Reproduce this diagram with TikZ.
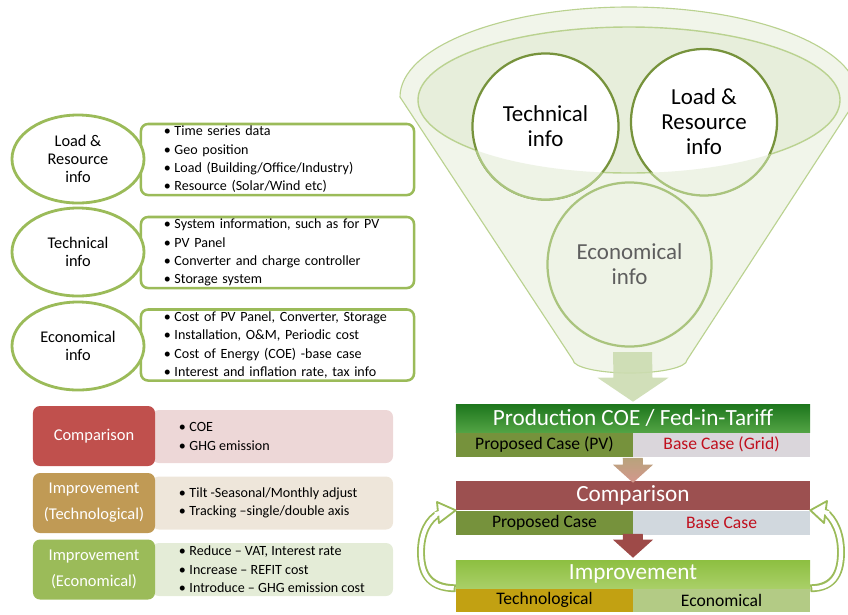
\documentclass[tikz,border=0pt]{standalone}
\usepackage{fontspec}
\setmainfont{Carlito}
\usepackage{tikz}
\usetikzlibrary{calc,positioning,shapes.geometric}
\definecolor{leaf}{HTML}{9BBB59}
\definecolor{leafdk}{HTML}{77933C}
\definecolor{leaflt}{HTML}{AAC47E}
\definecolor{funnel}{HTML}{F1F5EA}
\definecolor{funnelin}{HTML}{E7EEDB}
\definecolor{funnelln}{HTML}{BAD290}
\definecolor{funfront}{HTML}{EEF3E6}
\definecolor{funarrow}{HTML}{CCDCB1}
\definecolor{econgray}{HTML}{5E5E5E}
\definecolor{cmpred}{HTML}{C0504D}
\definecolor{cmppale}{HTML}{EDD7D7}
\definecolor{techtan}{HTML}{C09A55}
\definecolor{techpale}{HTML}{EEE6DA}
\definecolor{ecogreen}{HTML}{9BBB59}
\definecolor{ecopale}{HTML}{E4ECD7}
\definecolor{prodtop}{HTML}{1D761D}
\definecolor{prodbot}{HTML}{52A344}
\definecolor{pvolive}{HTML}{76923C}
\definecolor{gridgray}{HTML}{DAD6DB}
\definecolor{basegray}{HTML}{D1D8DE}
\definecolor{gridred}{HTML}{C0101E}
\definecolor{cmpbar}{HTML}{9C5050}
\definecolor{imprtop}{HTML}{8DBF41}
\definecolor{imprbot}{HTML}{A9CF67}
\definecolor{techgold}{HTML}{C2A112}
\definecolor{ecobar}{HTML}{B3CB85}
\definecolor{arrtop}{HTML}{B8A37C}
\definecolor{arrbot}{HTML}{D4978D}
\definecolor{arrred}{HTML}{9E4A48}
\newcommand\bul{\textbullet\hspace{2.5pt}}
% block arrow: style, start, tip, shaft half, head half, head length
\newcommand\blockarrow[6]{%
  \path[#1] ($(#2)+(-#4,0)$) -- ($(#2)+(#4,0)$) -- ($(#3)+(#4,-#6)$)
    -- ($(#3)+(#5,-#6)$) -- (#3) -- ($(#3)+(-#5,-#6)$) -- ($(#3)+(-#4,-#6)$) -- cycle;}
\tikzset{
  infoell/.style={ellipse, draw=leaf, line width=2pt, fill=white, minimum width=3.3cm,
    minimum height=2.2cm, inner sep=1pt, align=center, font=\fontsize{11.6}{13}\selectfont},
  infolist/.style={draw=leaf, line width=1.8pt, rounded corners=5pt, fill=white,
    minimum height=1.775cm, inner xsep=0.575cm, inner ysep=0pt, text width=5.675cm,
    align=left, font=\fontsize{10}{13}\selectfont},
  tagbox/.style={rounded corners=5pt, minimum width=3.05cm, minimum height=1.5cm,
    inner sep=0pt, align=center, text=white, font=\fontsize{11.7}{18.4}\selectfont},
  palebox/.style={rounded corners=5pt, minimum width=6.025cm, minimum height=1.325cm},
  palelist/.style={anchor=west, inner sep=0pt, align=left, font=\fontsize{10}{13.2}\selectfont},
  ringnode/.style={circle, draw=leafdk, line width=1.6pt, fill=white, minimum size=3.65cm,
    inner sep=0pt, align=center, font=\fontsize{16.3}{17.7}\selectfont},
  barnode/.style={minimum width=8.85cm, minimum height=0.7cm, inner sep=0pt, text=white,
    font=\fontsize{16.5}{18}\selectfont},
  halfnode/.style={minimum width=4.425cm, minimum height=0.6cm, inner sep=0pt,
    font=\fontsize{12.5}{14}\selectfont},
  cycarrow/.style={draw=leaf, line width=5.6pt},
  cycinner/.style={draw=white, line width=3pt},
  cychead/.style={fill=white, draw=leaf, line width=1.3pt, line join=round},
}
\begin{document}
\begin{tikzpicture}[x=0.025cm,y=-0.025cm]
  \useasboundingbox (0,0) rectangle (848,614);
  \clip (0,0) rectangle (848,614);

  % inputs, left
  \node[infolist] (lrlist) at (277.5,159.5) {\bul Time series data\\ \bul Geo position\\
    \bul Load (Building/Office/Industry)\\ \bul Resource (Solar/Wind etc)};
  \node[infolist] (techlist) at (277.5,252.5) {\bul System information, such as for PV\\
    \bul PV Panel\\ \bul Converter and charge controller\\ \bul Storage system};
  \node[infolist] (ecolist) at (277.5,345) {\bul Cost of PV Panel, Converter, Storage\\
    \bul Installation, O\&M, Periodic cost\\ \bul Cost of Energy (COE) -base case\\
    \bul Interest and inflation rate, tax info};
  \node[infoell] (lrell) at (78,159) {Load \&\\Resource\\info};
  \node[infoell] (techell) at (78,252) {Technical\\info};
  \node[infoell] (ecoell) at (78,346) {Economical\\info};

  % steps, left
  \node[palebox, fill=cmppale] (cmpbg) at (272.5,436.5) {};
  \node[palebox, fill=techpale] (techbg) at (272.5,503) {};
  \node[palebox, fill=ecopale] (ecobg) at (272.5,569.5) {};
  \node[palelist] (cmplist) at ($(cmpbg.west)+(27,0)$) {\bul COE\\ \bul GHG emission};
  \node[palelist] (techsteps) at ($(techbg.west)+(27,0)$) {\bul Tilt -Seasonal/Monthly adjust\\
    \bul Tracking --single/double axis};
  \node[palelist] (ecosteps) at ($(ecobg.west)+(27,0)$) {\bul Reduce -- VAT, Interest rate\\
    \bul Increase -- REFIT cost\\ \bul Introduce -- GHG emission cost};
  \node[tagbox, fill=cmpred] (cmptag) at (94,436) {Comparison};
  \node[tagbox, fill=techtan] (techtag) at (94,503) {Improvement\\(Technological)};
  \node[tagbox, fill=ecogreen] (ecotag) at (94,569.5) {Improvement\\(Economical)};

  % funnel
  \filldraw[fill=funnel, draw=funnelln, line width=0.8pt] (400,97)
    arc[start angle=180, end angle=360, x radius=229, y radius=90] -- (687,360)
    arc[start angle=0, end angle=180, x radius=57, y radius=13] -- cycle;
  \filldraw[fill=funnelin, draw=funnelln, line width=1pt] (629,100) ellipse[x radius=211, y radius=73];
  \node[ringnode] (techc) at (545.5,126.5) {Technical\\info};
  \node[ringnode] (loadc) at (704,122) {Load \&\\Resource\\info};
  \begin{scope}
    \clip (390,100) -- (418,100) arc[start angle=180, end angle=0, x radius=211, y radius=73]
      -- (870,100) -- (870,420) -- (390,420) -- cycle;
    \filldraw[fill=funfront, draw=leaflt, line width=1.6pt] (techc.center) circle[radius=73];
    \filldraw[fill=funfront, draw=leaflt, line width=1.6pt] (loadc.center) circle[radius=73.5];
  \end{scope}
  \node[ringnode, minimum size=4.1cm, fill=funfront, draw=leaflt, text=econgray] (econc)
    at (629.5,264.5) {Economical\\info};

  % results, right
  \node[barnode, top color=prodtop, bottom color=prodbot] (prod) at (633,418)
    {Production COE / Fed-in-Tariff};
  \node[halfnode, fill=pvolive, anchor=north west] (prodpv) at (prod.south west) {Proposed Case (PV)};
  \node[halfnode, fill=gridgray, text=gridred, anchor=north east] (prodgrid) at (prod.south east)
    {Base Case (Grid)};
  \node[barnode, fill=cmpbar, minimum height=0.725cm] (cmp) at (633,495.5) {Comparison};
  \node[halfnode, fill=pvolive, anchor=north west] (cmppv) at (cmp.south west) {Proposed Case};
  \node[halfnode, fill=basegray, text=gridred, anchor=north east] (cmpbase) at (cmp.south east)
    {Base Case};
  \node[barnode, top color=imprtop, bottom color=imprbot] (impr) at (633,574) {Improvement};
  \node[halfnode, fill=techgold, minimum height=0.575cm, anchor=north west] (imprtech)
    at (impr.south west) {Technological};
  \node[halfnode, fill=ecobar, minimum height=0.575cm, anchor=north east] (impreco)
    at (impr.south east) {Economical};

  % block arrows
  \coordinate (fbot) at (632.5,352);
  \blockarrow{fill=funarrow, fill opacity=0.9}{fbot}{$(prod.north)+(0,-2)$}{19.5}{35.5}{24}
  \blockarrow{top color=arrtop, bottom color=arrbot}{$(prodgrid.south west)+(0,1)$}{$(cmp.north)+(0,2)$}{10}{20}{18}
  \blockarrow{fill=arrred}{$(cmpbase.south west)+(0,-1)$}{$(impr.north)+(0,-2)$}{10}{20}{18}

  % feedback arrows
  \draw[cycarrow] (imprtech.north west) .. controls (426,588) and (421,570) .. (421,552)
    .. controls (421,533) and (428,519) .. (440,513);
  \draw[cycinner, shorten <=1.4pt] (imprtech.north west) .. controls (426,588) and (421,570) .. (421,552)
    .. controls (421,533) and (428,519) .. (440,513);
  \filldraw[cychead] (437,502) -- (cmppv.north west) -- (439,523) -- cycle;
  \draw[cycinner] (435,514.5) -- (443,512);
  \draw[cycarrow] (impreco.north east) .. controls (836,588) and (841,570) .. (841,552)
    .. controls (841,533) and (834,519) .. (825,512);
  \draw[cycinner, shorten <=1.4pt] (impreco.north east) .. controls (836,588) and (841,570) .. (841,552)
    .. controls (841,533) and (834,519) .. (825,512);
  \filldraw[cychead] (827,501) -- (cmpbase.north east) -- (824,523) -- cycle;
  \draw[cycinner] (829,513.5) -- (821,511);
\end{tikzpicture}
\end{document}
